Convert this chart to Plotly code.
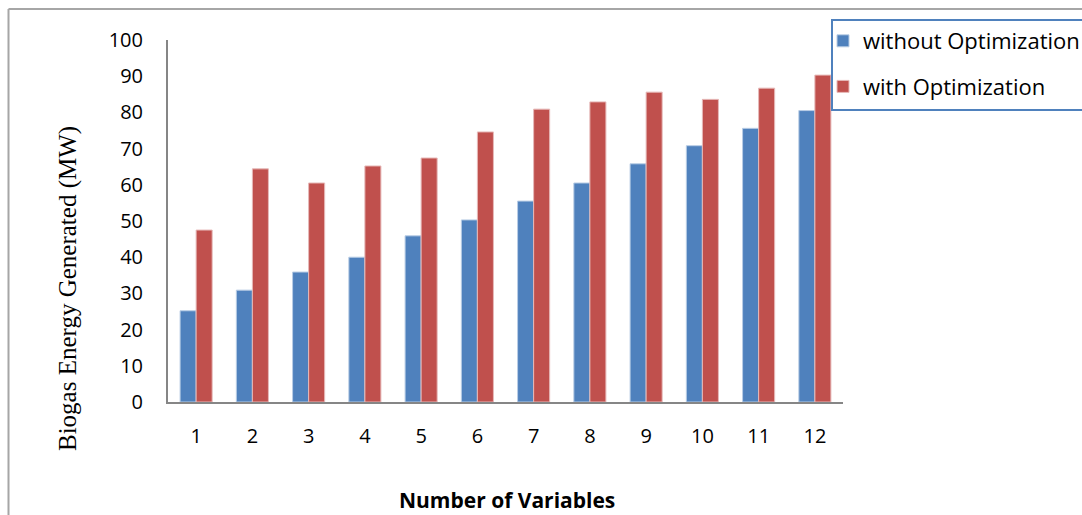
import plotly.graph_objects as go

categories = ["1", "2", "3", "4", "5", "6", "7", "8", "9", "10", "11", "12"]
without_opt = [25.2, 30.9, 35.9, 40.0, 45.9, 50.3, 55.5, 60.5, 65.8, 70.8, 75.6, 80.5]
with_opt = [47.5, 64.4, 60.5, 65.2, 67.4, 74.6, 80.9, 82.9, 85.6, 83.6, 86.7, 90.3]
y_ticks = [0, 10, 20, 30, 40, 50, 60, 70, 80, 90, 100]

W, H = 1082, 515
L, R, T, B = 168, 239, 40, 113
pw, ph = W - L - R, H - T - B
SANS = "Open Sans, Lato, sans-serif"

fig = go.Figure()
fig.add_trace(go.Bar(x=categories, y=without_opt, name="without Optimization",
                     marker=dict(color="#4F81BD", line=dict(color="#B9CDE5", width=1)),
                     legendgroup="a"))
fig.add_trace(go.Bar(x=categories, y=with_opt, name="with Optimization",
                     marker=dict(color="#C0504D", line=dict(color="#E6B9B8", width=1)),
                     legendgroup="b"))

def px_x(p):
    return (p - L) / pw

def px_y(p):
    return (H - B - p) / ph

fig.update_layout(
    width=W, height=H,
    margin=dict(l=L, r=R, t=T, b=B, autoexpand=False),
    paper_bgcolor="white", plot_bgcolor="white",
    barmode="group", bargap=0.43, bargroupgap=0,
    font=dict(family=SANS, size=20, color="black"),
    showlegend=True,
    legend=dict(x=px_x(823), y=px_y(20), xanchor="left", yanchor="top",
                borderwidth=0, bgcolor="rgba(0,0,0,0)",
                font=dict(size=22, family=SANS),
                traceorder="grouped", tracegroupgap=14,
                itemwidth=30),
    xaxis=dict(type="category", showgrid=False, showline=True, linecolor="#868686",
               linewidth=2, ticks="outside", ticklen=15, tickcolor="rgba(0,0,0,0)",
               tickfont=dict(size=20, family=SANS), fixedrange=True),
    yaxis=dict(range=[0, 100], tickvals=y_ticks, showgrid=False, showline=True,
               linecolor="#868686", linewidth=2, ticks="outside", ticklen=19,
               tickcolor="rgba(0,0,0,0)", zeroline=False,
               tickfont=dict(size=20, family=SANS), fixedrange=True),
    shapes=[
        dict(type="line", xref="paper", yref="paper", x0=px_x(8.5), x1=px_x(8.5),
             y0=px_y(9), y1=px_y(520), line=dict(color="#A6A6A6", width=2)),
        dict(type="line", xref="paper", yref="paper", x0=px_x(8.5), x1=px_x(1090),
             y0=px_y(9), y1=px_y(9), line=dict(color="#A6A6A6", width=2)),
        dict(type="rect", xref="paper", yref="paper", x0=px_x(832), x1=px_x(1095),
             y0=px_y(20), y1=px_y(110), line=dict(color="#4F81BD", width=2),
             fillcolor="white", layer="above"),
    ],
    annotations=[
        dict(text="Biogas Energy Generated (MW)", xref="paper", yref="paper",
             x=px_x(68), y=px_y(289), textangle=-90, showarrow=False,
             xanchor="center", yanchor="middle",
             font=dict(family="Liberation Serif, Times New Roman, serif", size=25, color="black")),
        dict(text="<b>Number of Variables</b>", xref="paper", yref="paper",
             x=px_x(507), y=px_y(500), showarrow=False, xanchor="center", yanchor="middle",
             font=dict(family=SANS, size=21, color="black")),
    ],
)

fig.write_html("out.html", config={"displayModeBar": False},
               post_script="document.body.style.margin='0';document.body.style.overflow='hidden';")
